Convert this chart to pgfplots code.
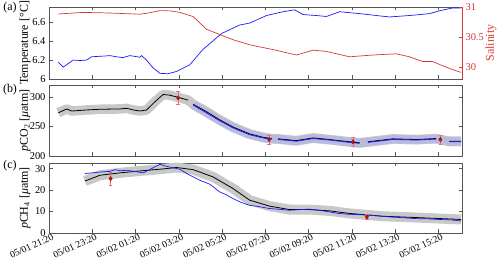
\documentclass[border=0pt]{standalone}
\usepackage{pgfplots}
\pgfplotsset{compat=1.18}
\usepackage{pgfplotstable}
\usepackage{fontspec}
\setmainfont{Liberation Serif}
\definecolor{myblue}{RGB}{25,25,255}
\definecolor{myred}{RGB}{215,55,55}
\definecolor{bandgray}{RGB}{200,200,200}
\definecolor{bandblue}{RGB}{170,170,240}
\definecolor{axgray}{RGB}{85,85,85}
\definecolor{ptred}{RGB}{200,20,20}

\pgfplotstableread{
h T
0.43 6.177
0.66 6.126
1.12 6.20
1.45 6.195
1.74 6.20
1.97 6.235
2.4 6.24
2.82 6.247
3.1 6.235
3.42 6.226
3.74 6.247
4.2 6.23
4.28 6.247
4.51 6.20
4.8 6.12
5.13 6.06
5.5 6.055
5.9 6.08
6.51 6.15
7.11 6.31
7.98 6.48
8.82 6.57
9.28 6.59
10.06 6.67
10.82 6.71
11.36 6.73
11.75 6.68
12.36 6.67
12.83 6.66
13.44 6.71
14.37 6.69
15.14 6.67
15.75 6.655
16.67 6.67
17.6 6.69
18.06 6.72
18.67 6.75
19.06 6.75
}\temptab

\pgfplotstableread{
h S
0.43 30.883
1.58 30.91
2.8 30.90
4.2 30.88
4.6 30.90
5.13 30.94
5.6 30.935
6.05 30.91
6.67 30.84
7.28 30.63
7.9 30.54
8.51 30.455
9.28 30.37
10.36 30.29
11.44 30.20
12.21 30.28
12.83 30.26
13.9 30.17
14.98 30.20
16.06 30.22
16.67 30.17
17.29 30.09
17.75 30.09
18.21 30.02
18.67 29.955
19.06 29.91
}\saltab

\pgfplotstableread{
h y
0.43 273
0.82 279.5
1.05 276
1.74 277.8
2.36 279
3.28 279.5
3.59 280.6
3.9 277.8
4.2 276
4.51 277.8
4.9 291.7
5.28 304
5.59 302.8
6.05 298.3
6.43 294.5
6.55 nan
6.67 287.3
7.28 275
7.9 261
8.51 249
9.28 237.3
9.9 231.7
10.3 229.3
10.4 nan
10.6 229
11.44 226
12.21 230.6
12.98 227.8
13.9 224
14.37 222.3
14.5 nan
14.75 224
14.98 225
15.9 229
16.98 227.8
17.9 229.5
18.3 nan
18.5 225
19.06 225
}\coblack

\pgfplotstableread{
h y
6.67 286
7.28 273
7.9 259.5
8.51 247.5
9.28 236
9.9 230.5
10.3 228.5
10.4 nan
10.6 228
11.44 225
12.21 229.5
12.98 227
13.9 223
14.37 221.5
14.5 nan
14.75 223
14.98 224
15.9 228
16.98 227
17.9 228.5
18.3 nan
18.5 224
19.06 224
}\coblue

\pgfplotstableread{
h y
1.66 24.2
2.36 26.9
3.28 28
4.2 28.9
5.13 29.7
5.9 30.5
6.67 29.5
7.59 26.1
8.51 20.7
9.28 15.3
10.2 12.5
11.13 10.9
12.06 10.9
12.98 10.3
13.9 9.1
15.44 7.8
16.98 7.2
19.06 6.3
}\chblack

\pgfplotstableread{
h y
1.66 27.7
2.0 28.0
2.36 28.4
2.82 28.7
3.05 29.5
3.3 29.0
3.59 29.2
4.0 28.6
4.36 28.0
4.59 29.2
4.9 30.8
5.13 32.0
5.3 31.4
5.59 30.7
6.05 29.7
6.51 26.9
6.97 24.6
7.44 22.7
7.9 19.1
8.2 17.8
8.51 16.0
8.9 14.2
9.28 12.9
9.7 12.3
10.2 11.4
10.7 11.0
11.13 10.6
11.6 10.9
12.06 11.1
12.5 10.6
12.98 9.8
13.4 9.1
13.9 8.7
14.4 8.5
14.83 8.3
15.3 7.9
15.75 7.5
16.4 7.1
16.98 6.7
17.5 6.6
18.06 6.3
18.6 6.1
19.06 5.6
}\chblue

\pgfplotsset{
  panel/.style={
    scale only axis, width=413bp,
    xmin=0, xmax=19.1, xtick={0,2,...,18},
    tick align=inside,
    axis line style={axgray},
    tick style={axgray, major tick length=3.5bp},
    ticklabel style={font=\fontsize{10.5}{12}\selectfont},
    /pgf/number format/assume math mode=true,
    label style={font=\fontsize{12}{13}\selectfont},
    ylabel style={at={(axis description cs:-0.058,0.5)}, anchor=center},
  },
  errpts/.style={only marks, mark=diamond*, mark size=2.2pt,
    mark options={fill=ptred, draw=ptred!70!black},
    error bars/.cd, y dir=both, y explicit,
    error bar style={myred!70, line width=0.6pt},
    error mark options={rotate=90, mark size=1.8pt, myred!70, line width=0.6pt}},
}

\begin{document}
\begin{tikzpicture}
\useasboundingbox (0,0) rectangle (500bp,271bp);

% ---------- panel (a) ----------
\begin{axis}[panel, at={(49bp,192bp)}, anchor=south west, height=72bp,
  ymin=6, ymax=6.76, ytick={6,6.2,6.4,6.6}, ytick pos=left,
  xticklabels={}, ylabel={Temperature [°C]}]
  \addplot[myblue, line width=0.7pt] table[x=h,y=T] {\temptab};
\end{axis}
\begin{axis}[panel, at={(49bp,192bp)}, anchor=south west, height=72bp,
  axis x line=none, axis y line*=right,
  ymin=29.8, ymax=31, ytick={30,30.5,31},
  yticklabels={30,30.5,31},
  y axis line style={myred}, ytick style={myred},
  yticklabel style={myred},
  ylabel={Salinity}, ylabel style={myred, at={(axis description cs:1.07,0.5)}, anchor=center}]
  \addplot[myred, line width=0.7pt] table[x=h,y=S] {\saltab};
\end{axis}

% ---------- panel (b) ----------
\begin{axis}[panel, at={(49bp,115bp)}, anchor=south west, height=71bp,
  ymin=200, ymax=320, ytick={200,250,300},
  xticklabels={}, ylabel={\textit{p}CO\textsubscript{2} [\textit{μ}atm]}]
  \addplot[bandgray, line width=9.5bp, line join=round, unbounded coords=discard] table[x=h,y=y] {\coblack};
  \addplot[bandblue, opacity=0.45, line width=9bp, line join=round, unbounded coords=discard] table[x=h,y=y] {\coblue};
  \addplot[black, line width=0.8pt, unbounded coords=jump] table[x=h,y=y] {\coblack};
  \addplot[myblue, line width=0.8pt, unbounded coords=jump] table[x=h,y=y] {\coblue};
  \addplot[errpts] coordinates {(5.97,298.3) +- (0,11) (10.18,227.8) +- (0,8) (14.06,224) +- (0,8) (18.1,227.8) +- (0,8)};
\end{axis}

% ---------- panel (c) ----------
\begin{axis}[panel, at={(49bp,38bp)}, anchor=south west, height=70bp,
  ymin=0, ymax=32.6, ytick={0,10,20,30},
  xticklabels={05/01 21:20,05/01 23:20,05/02 01:20,05/02 03:20,05/02 05:20,05/02 07:20,05/02 09:20,05/02 11:20,05/02 13:20,05/02 15:20},
  xticklabel style={font=\fontsize{9.8}{11}\selectfont, rotate=25, anchor=north east, inner sep=1pt, xshift=3.5bp},
  ylabel={\textit{p}CH\textsubscript{4} [\textit{μ}atm]}]
  \addplot[bandgray, line width=10bp, line join=round] table[x=h,y=y] {\chblack};
  \addplot[black, line width=0.8pt] table[x=h,y=y] {\chblack};
  \addplot[myblue, line width=0.7pt] table[x=h,y=y] {\chblue};
  \addplot[errpts] coordinates {(2.85,25.3) +- (0,3) (14.7,7.5) +- (0,1.2)};
\end{axis}

\node[font=\fontsize{12}{13}\selectfont] at (10bp,263bp) {(a)};
\node[font=\fontsize{12}{13}\selectfont] at (10bp,181bp) {(b)};
\node[font=\fontsize{12}{13}\selectfont] at (10bp,105bp) {(c)};
\end{tikzpicture}
\end{document}
